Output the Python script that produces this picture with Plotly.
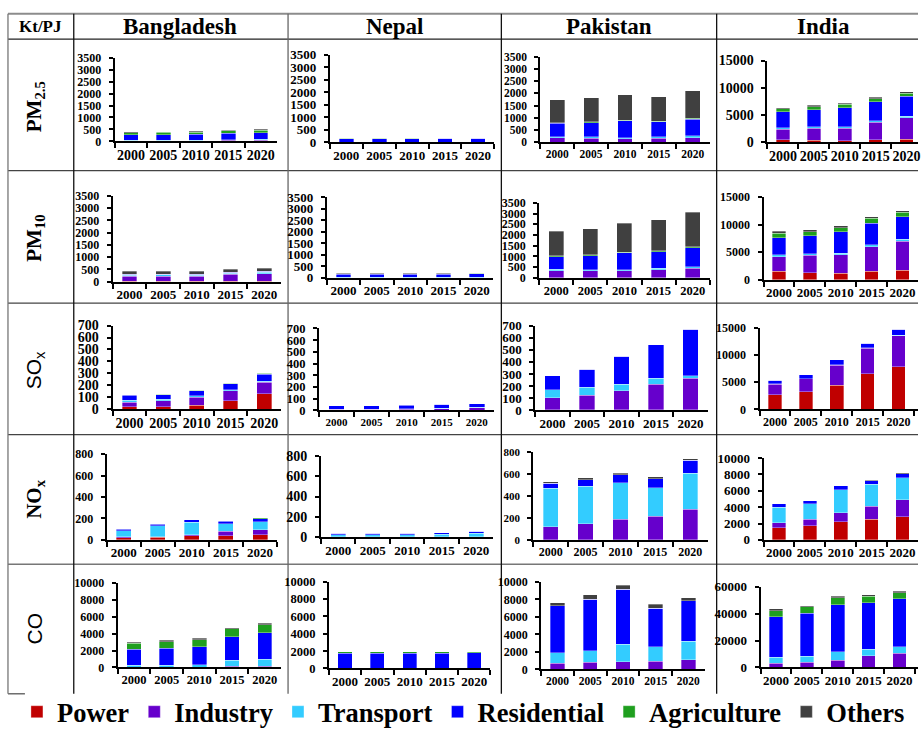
import plotly.graph_objects as go

# ---------------------------------------------------------------- data
YEARS = ["2000", "2005", "2010", "2015", "2020"]
COUNTRIES = ["Bangladesh", "Nepal", "Pakistan", "India"]
POLLUTANTS = ["PM<sub>2.5</sub>", "PM<sub>10</sub>", "SO<sub>x</sub>", "NO<sub>x</sub>", "CO"]
SECTORS = ["Power", "Industry", "Transport", "Residential", "Agriculture", "Others"]
COLORS = ["#c00000", "#6600cc", "#33ccff", "#0000ff", "#1f9f1f", "#404040"]
UNIT = "Kt/PJ"

# emissions by sector, one list per sector (values for YEARS)
BANGLADESH_PM25 = {"Power": [5, 5, 5, 5, 5], "Industry": [20, 25, 30, 40, 50],
                   "Transport": [15, 15, 20, 25, 30], "Residential": [240, 240, 235, 270, 280],
                   "Agriculture": [90, 95, 100, 100, 110], "Others": [30, 30, 30, 30, 30]}
NEPAL_PM25 = {"Power": [0, 0, 0, 0, 0], "Industry": [5, 5, 6, 7, 8],
              "Transport": [3, 4, 5, 6, 8], "Residential": [145, 145, 145, 145, 150],
              "Agriculture": [5, 5, 5, 5, 5], "Others": [2, 2, 2, 2, 2]}
PAKISTAN_PM25 = {"Power": [5, 5, 5, 5, 5], "Industry": [185, 165, 145, 165, 195],
                 "Transport": [50, 60, 50, 60, 70], "Residential": [540, 580, 680, 610, 680],
                 "Agriculture": [30, 30, 25, 25, 30], "Others": [940, 980, 1035, 995, 1130]}
INDIA_PM25 = {"Power": [500, 400, 350, 500, 600], "Industry": [1900, 2200, 2250, 3200, 3900],
              "Transport": [300, 300, 300, 300, 300], "Residential": [2900, 3100, 3500, 3500, 3700],
              "Agriculture": [600, 500, 600, 500, 500], "Others": [200, 300, 200, 300, 300]}

BANGLADESH_PM10 = {"Power": [10, 10, 10, 10, 15], "Industry": [220, 220, 215, 290, 320],
                   "Transport": [40, 45, 45, 50, 55], "Residential": [30, 30, 35, 30, 35],
                   "Agriculture": [10, 10, 10, 10, 10], "Others": [110, 115, 115, 110, 125]}
NEPAL_PM10 = {"Power": [0, 0, 0, 0, 0], "Industry": [10, 10, 10, 10, 12],
              "Transport": [5, 5, 5, 5, 6], "Residential": [150, 150, 150, 150, 155],
              "Agriculture": [20, 20, 20, 20, 22], "Others": [3, 3, 3, 3, 3]}
PAKISTAN_PM10 = {"Power": [5, 5, 5, 5, 5], "Industry": [325, 315, 315, 375, 435],
                 "Transport": [60, 60, 60, 60, 70], "Residential": [600, 650, 780, 780, 890],
                 "Agriculture": [30, 40, 40, 50, 60], "Others": [1150, 1210, 1340, 1430, 1600]}
INDIA_PM10 = {"Power": [1500, 1300, 1200, 1500, 1700], "Industry": [2700, 3100, 3300, 4500, 5300],
              "Transport": [300, 300, 300, 300, 300], "Residential": [3100, 3300, 3900, 3900, 4100],
              "Agriculture": [800, 700, 700, 900, 800], "Others": [400, 400, 400, 300, 300]}

BANGLADESH_SOX = {"Power": [20, 20, 35, 70, 130], "Industry": [40, 50, 65, 85, 95],
                  "Transport": [15, 15, 15, 10, 10], "Residential": [42, 38, 40, 50, 60],
                  "Agriculture": [3, 2, 5, 5, 5], "Others": [0, 0, 0, 0, 0]}
NEPAL_SOX = {"Power": [0, 0, 0, 0, 0], "Industry": [8, 8, 10, 15, 22],
             "Transport": [2, 2, 2, 3, 3], "Residential": [30, 30, 32, 32, 33],
             "Agriculture": [0, 0, 2, 0, 0], "Others": [0, 0, 0, 0, 0]}
PAKISTAN_SOX = {"Power": [5, 5, 5, 5, 5], "Industry": [100, 120, 155, 210, 260],
                "Transport": [65, 65, 55, 50, 20], "Residential": [115, 150, 230, 275, 385],
                "Agriculture": [0, 0, 0, 0, 0], "Others": [0, 0, 0, 0, 0]}
INDIA_SOX = {"Power": [2700, 3200, 4400, 6500, 7800], "Industry": [1900, 2400, 3700, 4700, 5700],
             "Transport": [50, 50, 50, 50, 50], "Residential": [650, 700, 900, 900, 1100],
             "Agriculture": [0, 0, 0, 0, 0], "Others": [0, 0, 0, 0, 0]}

BANGLADESH_NOX = {"Power": [20, 25, 40, 40, 50], "Industry": [10, 5, 10, 40, 45],
                  "Transport": [55, 100, 115, 70, 75], "Residential": [15, 18, 22, 25, 28],
                  "Agriculture": [3, 2, 3, 5, 7], "Others": [2, 0, 0, 0, 0]}
NEPAL_NOX = {"Power": [0, 0, 0, 0, 0], "Industry": [2, 2, 2, 3, 3],
             "Transport": [18, 18, 20, 22, 35], "Residential": [15, 15, 15, 15, 18],
             "Agriculture": [0, 0, 0, 0, 0], "Others": [0, 0, 0, 0, 0]}
PAKISTAN_NOX = {"Power": [0, 0, 0, 0, 0], "Industry": [120, 145, 190, 215, 280],
                "Transport": [350, 345, 330, 260, 330], "Residential": [45, 60, 75, 85, 115],
                "Agriculture": [0, 0, 0, 0, 0], "Others": [15, 15, 15, 15, 15]}
INDIA_NOX = {"Power": [1500, 1700, 2200, 2500, 2800], "Industry": [600, 800, 1100, 1600, 2100],
             "Transport": [1900, 1900, 2800, 2700, 2700], "Residential": [400, 400, 500, 400, 500],
             "Agriculture": [0, 0, 0, 0, 0], "Others": [0, 0, 0, 100, 100]}

BANGLADESH_CO = {"Power": [0, 0, 0, 0, 0], "Industry": [50, 50, 50, 150, 150],
                 "Transport": [200, 200, 300, 700, 850], "Residential": [1900, 2050, 2100, 2800, 3100],
                 "Agriculture": [700, 750, 850, 900, 950], "Others": [150, 150, 150, 150, 150]}
NEPAL_CO = {"Power": [0, 0, 0, 0, 0], "Industry": [0, 0, 0, 0, 0],
            "Transport": [0, 0, 0, 0, 0], "Residential": [1750, 1750, 1750, 1750, 1800],
            "Agriculture": [150, 150, 150, 150, 150], "Others": [0, 0, 0, 0, 0]}
PAKISTAN_CO = {"Power": [0, 0, 0, 0, 0], "Industry": [700, 800, 850, 950, 1100],
               "Transport": [1200, 1350, 2000, 1650, 2100], "Residential": [5350, 5850, 6300, 4400, 4650],
               "Agriculture": [0, 0, 0, 0, 0], "Others": [350, 500, 450, 450, 350]}
INDIA_CO = {"Power": [200, 200, 200, 200, 200], "Industry": [2800, 3800, 5000, 8600, 10300],
            "Transport": [4500, 4300, 6500, 4900, 5000], "Residential": [30000, 32000, 35000, 34500, 35500],
            "Agriculture": [4700, 4600, 5100, 4500, 4500], "Others": [1300, 1100, 1000, 1300, 1000]}

EMISSIONS = [
    [BANGLADESH_PM25, NEPAL_PM25, PAKISTAN_PM25, INDIA_PM25],
    [BANGLADESH_PM10, NEPAL_PM10, PAKISTAN_PM10, INDIA_PM10],
    [BANGLADESH_SOX, NEPAL_SOX, PAKISTAN_SOX, INDIA_SOX],
    [BANGLADESH_NOX, NEPAL_NOX, PAKISTAN_NOX, INDIA_NOX],
    [BANGLADESH_CO, NEPAL_CO, PAKISTAN_CO, INDIA_CO],
]

# ---------------------------------------------------------------- layout
W, H = 921, 736


def fx(px):
    return px / W


def fy(py):
    return 1 - py / H


# plot-area box of each panel in pixels: (left, right, top, bottom); None = page edge
GEOM = [
    [(115, 278, 52, 138), (331, 496, 49, 139), (542, 712, 51, 139), (770, None, 55, 139)],
    [(113, 282, 194, 282), (328, 495, 195, 278), (541, 712, 201, 278), (766, None, 195, 280)],
    [(113, 282, 327, 413), (320, 496, 330, 414), (537, 710, 327, 414), (762, None, 329, 413)],
    [(107, 278, 459, 547), (322, 495, 461, 544), (535, 710, 457, 547), (766, None, 463, 547)],
    [(118, 282, 591, 678), (330, 492, 590, 679), (543, 707, 590, 680), (763, None, 595, 678)],
]
YMAX = [[3500, 3500, 3500, 15000], [3500, 3500, 3500, 15000], [700, 700, 700, 15000],
        [800, 800, 800, 10000], [10000, 10000, 10000, 60000]]
DTICK = [[500, 500, 500, 5000], [500, 500, 500, 5000], [100, 100, 100, 5000],
         [200, 200, 200, 2000], [2000, 2000, 2000, 20000]]
# (x tick font, y tick font) sizes
FONTS = [
    [(14, 12), (13, 13), (11.5, 11.5), (14, 14)],
    [(13, 12), (13, 13), (12.5, 12), (13, 12)],
    [(14, 14), (11, 12.5), (13, 13), (12, 12)],
    [(13, 12), (13, 14), (12, 11), (13, 13)],
    [(12.5, 12), (13, 12.5), (11.5, 12), (13, 13)],
]
INDIA_STEP = 31  # pixel width of one year slot in the clipped right-hand column

SERIF = "Liberation Serif"
SANS = "Liberation Sans"

fig = go.Figure()
layout = dict(
    width=W, height=H, margin=dict(l=0, r=0, t=0, b=0),
    paper_bgcolor="white", plot_bgcolor="white",
    barmode="stack",
    showlegend=True,
    legend=dict(orientation="h", x=fx(17), y=fy(724), xanchor="left", yanchor="middle",
                font=dict(family=SERIF, size=26.5, color="black", weight="bold"),
                traceorder="normal", itemclick=False, itemdoubleclick=False,
                bgcolor="rgba(0,0,0,0)", tracegroupgap=0),
)

for r in range(5):
    for c in range(4):
        idx = r * 4 + c + 1
        left, right, top, bottom = GEOM[r][c]
        if right is None:
            right = W
            xr = [-0.5, -0.5 + (W - left) / INDIA_STEP]
        else:
            xr = [-0.5, 4.5]
        xf, yf = FONTS[r][c]
        panel = EMISSIONS[r][c]
        for s, sector in enumerate(SECTORS):
            fig.add_trace(go.Bar(
                x=YEARS, y=panel[sector], name=sector,
                marker=dict(color=COLORS[s], line=dict(color="rgba(255,255,255,0.55)", width=0.6)),
                width=0.44,
                xaxis=f"x{idx}", yaxis=f"y{idx}",
                legendgroup=sector, showlegend=(idx == 1),
                hovertemplate=f"{COUNTRIES[c]} %{{x}}<br>{sector}: %{{y}}<extra></extra>",
            ))
        xname = "xaxis" if idx == 1 else f"xaxis{idx}"
        yname = "yaxis" if idx == 1 else f"yaxis{idx}"
        layout[xname] = dict(
            domain=[fx(left), fx(right)], anchor=f"y{idx}", type="category",
            range=xr, showline=True, linecolor="black", linewidth=2,
            ticks="outside", tickson="boundaries", ticklen=5, tickwidth=2, tickcolor="black",
            tickangle=0,
            showgrid=False, zeroline=False, fixedrange=True,
            tickfont=dict(family=SERIF, size=xf, color="black", weight="bold"),
        )
        layout[yname] = dict(
            domain=[fy(bottom), fy(top)], anchor=f"x{idx}",
            range=[0, YMAX[r][c]], dtick=DTICK[r][c], tick0=0,
            tickformat="d", exponentformat="none",
            showline=True, linecolor="black", linewidth=2,
            ticks="outside", ticklen=4, tickwidth=1.5, tickcolor="black",
            ticklabelstandoff=5,
            showgrid=False, zeroline=False, fixedrange=True,
            tickfont=dict(family=SERIF, size=yf, color="black", weight="bold"),
        )

fig.update_layout(**layout)

# ---------------------------------------------------------------- table frame
ROW_LINES = [168, 304, 439, 572]
COL_LINES = [74, 289, 503, 719]
TOP, HEAD, BOTTOM, LEFT = 7, 33, 705, 8


def hline(y, x0, x1, color, width):
    fig.add_shape(type="line", xref="paper", yref="paper", x0=fx(x0), x1=fx(x1),
                  y0=fy(y), y1=fy(y), line=dict(color=color, width=width), layer="below")


def vline(x, y0, y1, color, width):
    fig.add_shape(type="line", xref="paper", yref="paper", x0=fx(x), x1=fx(x),
                  y0=fy(y0), y1=fy(y1), line=dict(color=color, width=width), layer="below")


hline(TOP, LEFT, W, "#8c8c8c", 2)
hline(HEAD, LEFT, W, "#222222", 1.3)
for y in ROW_LINES:
    hline(y, LEFT, W, "#444444" if y != 572 else "#777777", 1.3)
hline(BOTTOM, LEFT, 25, "#555555", 1.3)
vline(LEFT, TOP, BOTTOM, "#777777", 1.3)
for x in COL_LINES:
    vline(x, TOP, BOTTOM, "#666666" if x == 289 else "#111111", 1.3)

# column headings
HEAD_CENTERS = [181, 396, 611, 826]
fig.add_annotation(text=UNIT, x=fx(41), y=fy(20), xref="paper", yref="paper",
                   showarrow=False, xanchor="center", yanchor="middle",
                   font=dict(family=SERIF, size=17, color="black", weight="bold"))
for name, cx in zip(COUNTRIES, HEAD_CENTERS):
    fig.add_annotation(text=name, x=fx(cx), y=fy(20), xref="paper", yref="paper",
                       showarrow=False, xanchor="center", yanchor="middle",
                       font=dict(family=SERIF, size=23, color="black", weight="bold"))

# row headings (rotated)
ROW_CENTERS = [102, 237, 373, 505, 638]
ROW_FONTS = [(SERIF, "bold"), (SERIF, "bold"), (SANS, "normal"), (SERIF, "bold"), (SANS, "normal")]
for label, cy, (fam, wt) in zip(POLLUTANTS, ROW_CENTERS, ROW_FONTS):
    fig.add_annotation(text=label, x=fx(35), y=fy(cy), xref="paper", yref="paper",
                       showarrow=False, textangle=-90, xanchor="center", yanchor="middle",
                       font=dict(family=fam, size=21, color="black", weight=wt))

fig.write_html("out.html")
